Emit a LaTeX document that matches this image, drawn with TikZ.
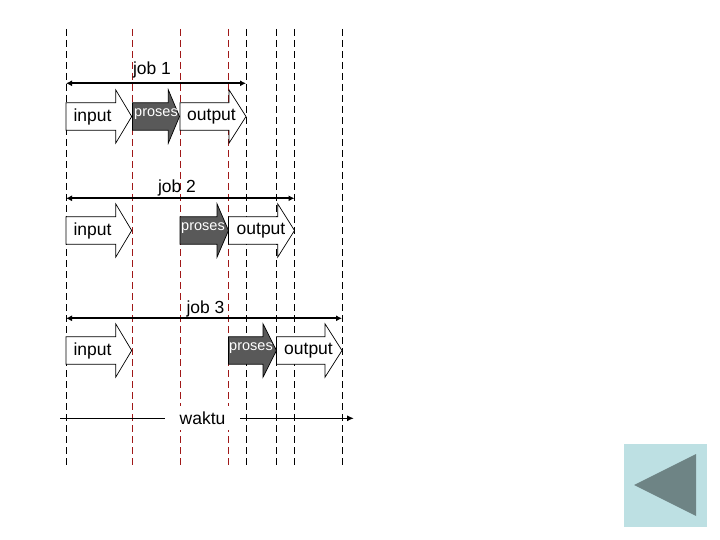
\documentclass[tikz,border=0pt]{standalone}
\usepackage{fontspec}
\setmainfont{Liberation Sans}
\usetikzlibrary{arrows.meta}
\definecolor{darkred}{HTML}{A01818}
\definecolor{procgray}{HTML}{595959}
\definecolor{btnbg}{HTML}{BDE0E3}
\definecolor{btntri}{HTML}{6E8485}
\tikzset{
  vline/.style={line width=0.9pt, dash pattern=on 7pt off 4pt},
  redline/.style={vline, draw=darkred},
  blackline/.style={vline, draw=black},
  whitearrow/.style={draw=black, line width=0.7pt, fill=white},
  grayarrow/.style={draw=black, line width=0.7pt, fill=procgray},
  bigtext/.style={font=\fontsize{17.5}{20}\selectfont, inner sep=0pt},
  proctext/.style={font=\fontsize{14.5}{17}\selectfont, text=white, inner sep=0pt},
  spanarrow/.style={line width=2.2pt, {Latex[length=6pt,width=6pt]}-{Latex[length=6pt,width=6pt]}},
}
% block arrow: #1 style, #2 x start, #3 head start, #4 tip x, #5 mid y
\newcommand{\blkarrow}[5]{%
  \draw[#1] (#2,#5-13.7) -- (#3,#5-13.7) -- (#3,#5-26.7) -- (#4,#5)
    -- (#3,#5+26.7) -- (#3,#5+13.7) -- (#2,#5+13.7) -- cycle;}
\begin{document}
\begin{tikzpicture}[x=1pt,y=-1pt]
\useasboundingbox (0,0) rectangle (720,540);
% vertical dashed lines
\foreach \x in {66,246,276.5,294.5,342}
  \draw[blackline] (\x,29) -- (\x,468);
\foreach \x in {132.5,180,228.5}
  \draw[redline] (\x,29) -- (\x,468);

% job 1
\blkarrow{whitearrow}{66}{115.7}{131.7}{116.5}
\blkarrow{grayarrow}{132.5}{168.3}{179.5}{116.5}
\blkarrow{whitearrow}{180}{229}{246}{116.5}
\node[bigtext] (in1) at (92.5,117) {input};
\node[proctext] (pr1) at (156,114) {proses};
\node[bigtext] (out1) at (211.5,117) {output};
\coordinate (j1a) at (66,83.3);
\coordinate (j1b) at (246,83.3);
\draw[spanarrow] (j1a) -- (j1b);
\node[bigtext] (job1) at (152,70) {job 1};

% job 2
\blkarrow{whitearrow}{66}{115.7}{131.7}{230.5}
\blkarrow{grayarrow}{180}{217}{228.5}{230.5}
\blkarrow{whitearrow}{228.5}{277.7}{294.5}{230.5}
\node[bigtext] (in2) at (92.5,231) {input};
\node[proctext] (pr2) at (203,228) {proses};
\node[bigtext] (out2) at (261,231) {output};
\coordinate (j2a) at (66,198.3);
\coordinate (j2b) at (294.5,198.3);
\draw[spanarrow] (j2a) -- (j2b);
\node[bigtext] (job2) at (177,188) {job 2};

% job 3
\blkarrow{whitearrow}{66}{115.7}{131.7}{350.5}
\blkarrow{grayarrow}{228.5}{263}{276.5}{350.5}
\blkarrow{whitearrow}{276.5}{325}{342}{350.5}
\node[bigtext] (in3) at (92.5,351) {input};
\node[proctext] (pr3) at (251,348) {proses};
\node[bigtext] (out3) at (308.5,351) {output};
\coordinate (j3a) at (66,318.3);
\coordinate (j3b) at (342,318.3);
\draw[spanarrow] (j3a) -- (j3b);
\node[bigtext] (job3) at (205.5,309) {job 3};

% waktu
\node[bigtext, fill=white, minimum width=75pt, minimum height=24pt] (waktu) at (202.5,418.3) {waktu};
\coordinate (wa) at (60,418.3);
\coordinate (wb) at (354,418.3);
\draw[line width=1.6pt] (wa) -- (waktu.west);
\draw[line width=1.6pt, -{Latex[length=7pt,width=6pt]}] (waktu.east) -- (wb);

% back button
\fill[btnbg] (624,444) rectangle (706.7,526.7);
\fill[btntri] (634,485) -- (696,454) -- (696,516) -- cycle;
\end{tikzpicture}
\end{document}
